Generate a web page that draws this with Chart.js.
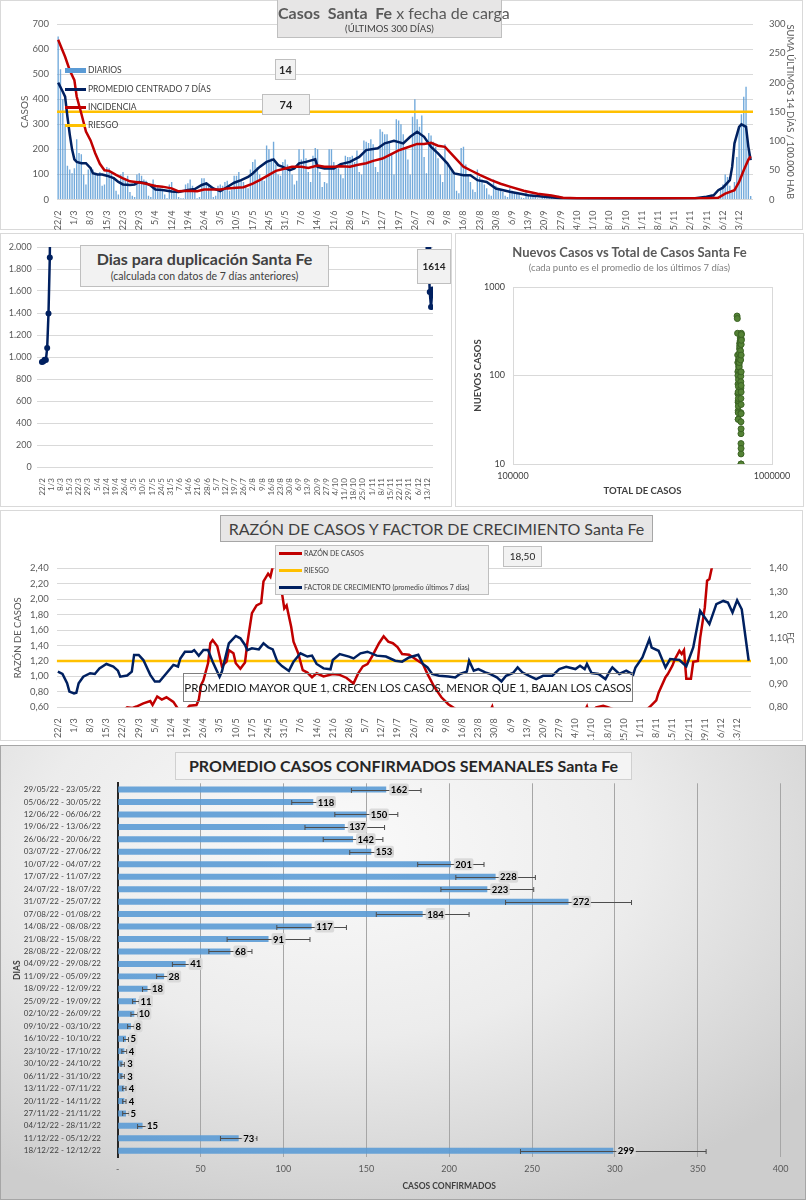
<!DOCTYPE html>
<html lang="es">
<head>
<meta charset="utf-8">
<title>Casos Santa Fe</title>
<script src="https://cdn.jsdelivr.net/npm/chart.js@4.4.1/dist/chart.umd.min.js"></script>
<style>
  body { margin: 0; background: #fff; font-family: Lato, "Open Sans", sans-serif; }
  #page { position: relative; width: 806px; height: 1200px; overflow: hidden; }
  .panel { position: absolute; box-sizing: border-box; border: 1px solid #d9d9d9; background: #fff; }
  canvas { position: absolute; }
  .box { position: absolute; box-sizing: border-box; border: 1px solid #bfbfbf; background: #ededed;
         color: #404040; text-align: center; white-space: nowrap; }
  .leg { position: absolute; font-size: 8.5px; color: #404040; white-space: nowrap; line-height: 10px; }
  .sw { position: absolute; }
</style>
</head>
<body>
<div id="page">
  <div class="panel" style="left:0;top:0;width:803px;height:230px"></div>
  <div class="panel" style="left:0;top:233px;width:452px;height:274px"></div>
  <div class="panel" style="left:455px;top:233px;width:349px;height:274px"></div>
  <div class="panel" style="left:0;top:510px;width:803px;height:231px"></div>
  <div class="panel" style="left:0;top:745px;width:806px;height:455px;border-color:#a6a6a6;
       background:radial-gradient(ellipse 75% 85% at 42% 22%, #fafafa 0%, #ececec 50%, #cdcdcd 100%)"></div>

  <canvas id="c1" width="806" height="230" style="left:0;top:0"></canvas>
  <canvas id="c2" width="453" height="274" style="left:0;top:233px"></canvas>
  <canvas id="c3" width="350" height="274" style="left:455px;top:233px"></canvas>
  <canvas id="c4" width="806" height="230" style="left:0;top:510px"></canvas>
  <canvas id="c5" width="806" height="455" style="left:0;top:745px"></canvas>

  <!-- panel 1 -->
  <div class="box" style="left:277px;top:-1px;width:225px;height:39px;background:#e7e6e6;color:#595959">
    <div style="font-size:16px;line-height:20px;margin-top:3px"><b>Casos&nbsp; Santa&nbsp; Fe</b> x fecha de carga</div>
    <div style="font-size:9.5px;line-height:12px;color:#404040">(ÚLTIMOS 300 DÍAS)</div>
  </div>
  <div class="sw" style="left:65px;top:68px;width:21px;height:5px;background:#5b9bd5"></div>
  <div class="leg" style="left:88px;top:65px">DIARIOS</div>
  <div class="sw" style="left:65px;top:88px;width:21px;height:3px;background:#002060"></div>
  <div class="leg" style="left:88px;top:84px">PROMEDIO CENTRADO 7 DÍAS</div>
  <div class="sw" style="left:65px;top:106px;width:21px;height:3px;background:#c00000"></div>
  <div class="leg" style="left:88px;top:102px">INCIDENCIA</div>
  <div class="sw" style="left:65px;top:124px;width:21px;height:3px;background:#ffc000"></div>
  <div class="leg" style="left:88px;top:120px">RIESGO</div>
  <div class="box" id="boxDiario" style="left:275px;top:59px;width:21px;height:21px;background:#f2f2f2;font-weight:bold;font-size:11px;line-height:19px;color:#262626"></div>
  <div class="box" id="boxIncidencia" style="left:262px;top:94px;width:48px;height:21px;background:#f2f2f2;font-weight:bold;font-size:11px;line-height:19px;color:#262626"></div>

  <!-- panel 2 -->
  <div class="box" style="left:80px;top:245px;width:249px;height:42px;background:#f2f2f2">
    <div style="font-size:16px;font-weight:bold;line-height:20px;margin-top:3px">Dias para duplicación Santa Fe</div>
    <div style="font-size:10.5px;line-height:14px">(calculada con datos de 7 días anteriores)</div>
  </div>
  <div class="box" id="boxDuplicacion" style="left:417px;top:249px;width:34px;height:35px;background:#f2f2f2;font-weight:bold;font-size:10px;line-height:33px;color:#262626"></div>

  <!-- panel 3 -->
  <div style="position:absolute;left:455px;top:244px;width:349px;text-align:center;font-size:13px;font-weight:bold;color:#595959;white-space:nowrap">Nuevos Casos vs Total de Casos Santa Fe</div>
  <div style="position:absolute;left:455px;top:262px;width:349px;text-align:center;font-size:9.5px;color:#7f7f7f;white-space:nowrap">(cada punto es el promedio de los últimos 7 días)</div>

  <!-- panel 4 -->
  <div class="box" style="left:220px;top:515px;width:433px;height:27px;background:#e7e6e6;border-color:#a6a6a6;font-size:16px;line-height:25px">RAZÓN DE CASOS Y FACTOR DE CRECIMIENTO Santa Fe</div>
  <div class="box" style="left:275px;top:545px;width:214px;height:50px;background:#f2f2f2"></div>
  <div class="sw" style="left:279px;top:551.5px;width:23px;height:3px;background:#c00000"></div>
  <div class="leg" style="left:304px;top:548px;font-size:7px">RAZÓN DE CASOS</div>
  <div class="sw" style="left:279px;top:568.5px;width:23px;height:3px;background:#ffc000"></div>
  <div class="leg" style="left:304px;top:565px;font-size:7px">RIESGO</div>
  <div class="sw" style="left:279px;top:585.5px;width:23px;height:3px;background:#002060"></div>
  <div class="leg" style="left:304px;top:582px;font-size:7px">FACTOR DE CRECIMIENTO (promedio últimos 7 días)</div>
  <div class="box" id="boxRazon" style="left:503px;top:546px;width:39px;height:21px;background:#f2f2f2;font-size:10px;line-height:19px;color:#262626"></div>
  <div class="box" style="left:183px;top:673px;width:450px;height:29px;background:transparent;border-color:#7f7f7f;color:#1a1a1a;font-size:11.5px;line-height:27px">PROMEDIO MAYOR QUE 1, CRECEN LOS CASOS, MENOR QUE 1, BAJAN LOS CASOS</div>

  <!-- panel 5 -->
  <div class="box" style="left:175px;top:752px;width:457px;height:28px;background:#f4f4f4;border-color:#d0d0d0;color:#262626;font-size:16px;font-weight:bold;line-height:26px">PROMEDIO CASOS CONFIRMADOS SEMANALES Santa Fe</div>
</div>

<script>
// ---- datos: casos diarios (300 días desde 22/2) ----
const etiquetasSemana = ['22/2', '1/3', '8/3', '15/3', '22/3', '29/3', '5/4', '12/4', '19/4', '26/4',
  '3/5', '10/5', '17/5', '24/5', '31/5', '7/6', '14/6', '21/6', '28/6', '5/7', '12/7', '19/7', '26/7',
  '2/8', '9/8', '16/8', '23/8', '30/8', '6/9', '13/9', '20/9', '27/9', '4/10', '11/10', '18/10', '25/10',
  '1/11', '8/11', '15/11', '22/11', '29/11', '6/12', '13/12'];

const diarios = [
  650, 520, 400, 300, 135, 120, 105,
  125, 240, 185, 180, 100, 60, 120,
  130, 120, 105, 100, 110, 55, 60,
  130, 125, 110, 90, 35, 20, 100,
  110, 85, 95, 30, 15, 10, 100,
  105, 95, 80, 75, 15, 10, 80,
  60, 50, 45, 35, 20, 5, 60,
  70, 40, 35, 10, 5, 5, 60,
  65, 80, 55, 30, 5, 10, 85,
  85, 70, 60, 50, 10, 15, 55,
  60, 55, 70, 75, 35, 40, 95,
  95, 110, 80, 70, 55, 45, 120,
  150, 160, 130, 100, 80, 75, 215,
  200, 165, 230, 140, 100, 95, 150,
  160, 140, 130, 100, 60, 75, 200,
  160, 200, 165, 110, 70, 175, 205,
  200, 110, 50, 70, 65, 200, 200,
  150, 130, 125, 100, 85, 175, 170,
  170, 175, 150, 195, 110, 100, 235,
  230, 225, 240, 220, 130, 110, 280,
  270, 260, 260, 230, 185, 100, 320,
  315, 300, 260, 200, 160, 100, 330,
  400, 320, 290, 335, 170, 105, 265,
  255, 230, 210, 165, 100, 70, 220,
  140, 130, 120, 100, 35, 25, 205,
  210, 140, 100, 70, 40, 30, 120,
  90, 80, 60, 45, 20, 15, 80,
  55, 45, 35, 30, 15, 10, 45,
  35, 30, 25, 20, 8, 6, 30,
  22, 18, 15, 12, 5, 4, 20,
  15, 12, 10, 10, 4, 3, 15,
  8, 7, 6, 6, 2, 2, 8,
  6, 5, 4, 4, 2, 1, 6,
  5, 4, 3, 3, 1, 1, 5,
  4, 3, 3, 3, 1, 1, 4,
  4, 3, 3, 3, 1, 1, 4,
  4, 4, 3, 4, 1, 1, 5,
  5, 4, 4, 4, 2, 1, 5,
  5, 5, 4, 5, 2, 2, 7,
  8, 7, 6, 8, 3, 3, 12,
  15, 18, 20, 22, 10, 12, 45,
  60, 100, 90, 55, 30, 70, 170,
  290, 340, 410, 450, 200, 14
];

// [día, valor]
const promedio7 = [[0, 466], [2, 430], [3, 410], [4, 330], [5, 260], [6, 200], [7, 160], [8, 150], [10, 145],
  [12, 145], [14, 125], [15, 105], [17, 100], [19, 100], [21, 95], [24, 85], [26, 70], [28, 60], [31, 58],
  [33, 60], [35, 70], [38, 65], [40, 55], [42, 40], [45, 38], [49, 32], [52, 30], [56, 38], [59, 42],
  [62, 58], [64, 64], [67, 44], [70, 33], [73, 50], [76, 67], [79, 77], [82, 90], [84, 104], [87, 130],
  [90, 150], [93, 160], [95, 137], [97, 130], [100, 117], [102, 124], [104, 144], [107, 150], [111, 160],
  [112, 130], [115, 124], [119, 124], [122, 141], [126, 150], [130, 170], [133, 197], [138, 204],
  [141, 224], [145, 234], [149, 224], [152, 250], [155, 270], [158, 250], [161, 210], [164, 184],
  [168, 144], [171, 104], [175, 97], [178, 97], [181, 77], [185, 70], [189, 44], [195, 31], [203, 17],
  [210, 11], [217, 5], [225, 4], [240, 3], [260, 3], [275, 5], [280, 11], [283, 17], [285, 37],
  [287, 47], [290, 77], [291, 130], [292, 224], [294, 290], [295, 300], [297, 290], [298, 210], [299, 157]];

const incidencia = [[0, 273], [3, 244], [5, 221], [7, 204], [8, 176], [10, 147], [12, 116], [14, 101],
  [16, 79], [18, 61], [20, 50], [22, 49], [25, 42], [28, 36], [31, 31], [35, 29], [38, 27], [42, 23],
  [45, 22], [49, 19], [52, 14], [56, 15], [60, 14], [63, 17], [66, 17], [70, 17], [73, 19], [77, 20],
  [80, 21], [84, 27], [87, 33], [91, 42], [94, 49], [98, 53], [101, 56], [105, 56], [108, 54], [112, 58],
  [115, 56], [119, 56], [122, 57], [126, 56], [129, 59], [133, 62], [136, 66], [140, 70], [143, 76],
  [147, 84], [150, 88], [155, 95], [158, 95], [161, 97], [164, 92], [167, 90], [171, 73], [175, 56],
  [178, 50], [182, 42], [187, 33], [191, 27], [195, 22], [201, 15], [207, 10], [213, 7], [218, 3],
  [224, 2], [240, 2], [260, 2], [280, 2], [285, 3], [288, 10], [292, 16], [294, 30], [296, 50],
  [298, 68], [299, 74]];

const RIESGO_INCIDENCIA = 150;

// ---- días para duplicación ----
const duplicacion = [[0, 955], [1, 960], [2, 975], [3, 972], [4, 1082], [5, 1395], [6, 1905], [7, 3200],
  [294, 3000], [295, 1990], [296, 1592], [297, 1454], [298, 1614]];

// ---- nuevos casos vs total ----
const totalCasos = [733000, 734800, 736300, 737240, 737860, 738360, 738780, 739140, 739425, 739675,
  739930, 740160, 740340, 740485, 740613, 740753, 740928, 741133, 741328, 741528, 741788, 742118,
  742528, 743048, 743638, 744188, 744698, 745258, 745868, 746448, 746968, 747498, 748088, 748758,
  749518, 750348, 751238, 752163, 753118, 754138, 755148, 756008, 756688, 757208, 757624, 757990,
  758304, 758558, 758744, 758880, 758984, 759062, 759122, 759168, 759202, 759290, 759420, 759600,
  759640, 759680, 759710, 759755, 759870, 759940, 760040, 760180, 760380, 760620, 760900, 761200,
  761490, 761760];
const nuevosCasos = [470, 440, 300, 170, 140, 110, 100, 80, 62, 62,
  65, 50, 40, 32, 32, 38, 50, 52, 45, 55, 75, 90,
  115, 145, 150, 125, 130, 150, 155, 135, 125, 140, 155, 180,
  200, 215, 230, 232, 245, 265, 240, 190, 150, 110, 98, 85,
  72, 55, 38, 30, 22, 17, 13, 10, 7, 4, 3, 10,
  15, 25, 37, 47, 65, 77, 110, 170, 224, 260, 290, 300,
  290, 250];

// ---- razón de casos y factor de crecimiento ----
const razonCasos = [[0, 0.45], [10, 0.35], [20, 0.4], [28, 0.55], [30, 0.60], [32, 0.59], [34, 0.61],
  [37, 0.65], [40, 0.68], [41, 0.63], [43, 0.74], [45, 0.70], [47, 0.73], [50, 0.67], [52, 0.58],
  [55, 0.55], [57, 0.62], [60, 0.63], [61, 0.70], [62, 0.89], [63, 0.95], [65, 1.17], [66, 1.43],
  [67, 1.47], [69, 1.39], [70, 1.26], [71, 1.13], [73, 1.19], [74, 1.34], [76, 1.30], [77, 1.17],
  [79, 1.10], [81, 1.18], [82, 1.43], [84, 1.82], [86, 1.92], [88, 1.95], [89, 2.23], [91, 2.33],
  [92, 2.29], [93, 2.42], [94, 2.5], [95, 2.29], [97, 2.08], [98, 1.88], [99, 1.92], [101, 1.64],
  [102, 1.45], [104, 1.30], [106, 1.08], [108, 1.05], [110, 0.99], [112, 1.04], [115, 1.00],
  [119, 1.03], [122, 1.02], [125, 0.98], [127, 0.93], [128, 0.91], [130, 1.04], [132, 1.13],
  [134, 1.16], [136, 1.26], [139, 1.43], [141, 1.52], [143, 1.45], [145, 1.43], [147, 1.38],
  [149, 1.29], [152, 1.28], [156, 1.20], [158, 1.16], [160, 1.03], [163, 0.86], [166, 0.73],
  [169, 0.64], [172, 0.58], [180, 0.45], [187, 0.55], [188, 0.61], [189, 0.5], [200, 0.4],
  [215, 0.35], [228, 0.55], [229, 0.61], [230, 0.5], [233, 0.60], [236, 0.62], [238, 0.60],
  [240, 0.58], [247, 0.45], [254, 0.55], [256, 0.60], [259, 0.69], [260, 0.79], [263, 0.99],
  [264, 1.03], [266, 1.14], [267, 1.22], [269, 1.33], [270, 1.29], [271, 1.34], [272, 0.97],
  [274, 0.97], [275, 1.19], [277, 1.20], [278, 1.50], [280, 1.89], [281, 2.24], [282, 2.26],
  [283, 2.40], [285, 3.0], [299, 18.5]];

const factorCrecimiento = [[0, 0.954], [2, 0.944], [4, 0.904], [5, 0.868], [7, 0.860], [8, 0.863],
  [9, 0.904], [11, 0.932], [14, 0.947], [16, 0.944], [18, 0.968], [21, 0.987], [24, 0.976], [26, 0.958],
  [27, 0.932], [30, 0.937], [32, 0.954], [33, 1.026], [35, 1.026], [37, 1.004], [40, 0.940], [42, 0.911],
  [44, 0.911], [47, 0.947], [50, 0.983], [52, 0.976], [53, 1.011], [55, 1.040], [58, 1.040], [59, 1.047],
  [61, 1.022], [63, 1.047], [65, 1.047], [67, 0.997], [70, 0.932], [71, 0.954], [74, 1.076], [77, 1.108],
  [79, 1.098], [81, 1.069], [82, 1.047], [84, 1.055], [87, 1.050], [89, 1.076], [91, 1.059], [93, 1.050],
  [95, 0.997], [97, 0.978], [100, 0.957], [102, 0.997], [105, 1.033], [108, 1.019], [110, 1.023],
  [112, 0.987], [115, 0.968], [118, 0.964], [119, 1.004], [122, 1.030], [126, 1.019], [128, 1.011],
  [131, 1.033], [134, 1.040], [138, 1.023], [142, 1.019], [146, 1.001], [149, 0.997], [152, 1.015],
  [156, 1.027], [158, 0.987], [160, 0.972], [162, 0.944], [165, 0.936], [169, 0.933], [172, 0.929],
  [174, 0.944], [177, 0.954], [178, 1.001], [180, 0.958], [182, 0.965], [185, 0.951], [187, 0.944],
  [190, 0.929], [192, 0.912], [194, 0.936], [197, 0.948], [199, 0.972], [201, 0.951], [204, 0.936],
  [207, 0.922], [210, 0.936], [214, 0.936], [217, 0.965], [220, 0.975], [224, 0.965], [226, 0.979],
  [228, 0.965], [229, 0.987], [231, 0.948], [234, 0.944], [237, 0.922], [239, 0.958], [240, 0.972],
  [243, 0.944], [246, 0.958], [249, 0.941], [250, 0.972], [253, 1.015], [256, 1.094], [257, 1.058],
  [260, 1.044], [263, 0.972], [265, 1.008], [269, 1.004], [272, 0.977], [275, 1.058], [278, 1.216],
  [280, 1.188], [282, 1.159], [285, 1.245], [288, 1.259], [290, 1.252], [292, 1.209], [294, 1.262],
  [296, 1.223], [299, 1.001]];

const RIESGO_RAZON = 1.2;

// ---- promedio semanal ----
const semanas = ['29/05/22 - 23/05/22', '05/06/22 - 30/05/22', '12/06/22 - 06/06/22', '19/06/22 - 13/06/22',
  '26/06/22 - 20/06/22', '03/07/22 - 27/06/22', '10/07/22 - 04/07/22', '17/07/22 - 11/07/22',
  '24/07/22 - 18/07/22', '31/07/22 - 25/07/22', '07/08/22 - 01/08/22', '14/08/22 - 08/08/22',
  '21/08/22 - 15/08/22', '28/08/22 - 22/08/22', '04/09/22 - 29/08/22', '11/09/22 - 05/09/22',
  '18/09/22 - 12/09/22', '25/09/22 - 19/09/22', '02/10/22 - 26/09/22', '09/10/22 - 03/10/22',
  '16/10/22 - 10/10/22', '23/10/22 - 17/10/22', '30/10/22 - 24/10/22', '06/11/22 - 31/10/22',
  '13/11/22 - 07/11/22', '20/11/22 - 14/11/22', '27/11/22 - 21/11/22', '04/12/22 - 28/11/22',
  '11/12/22 - 05/12/22', '18/12/22 - 12/12/22'];
const promedios = [162, 118, 150, 137, 142, 153, 201, 228, 223, 272, 184, 117, 91, 68, 41, 28, 18, 11, 10,
  8, 5, 4, 3, 3, 4, 4, 5, 15, 73, 299];
const errores = [21, 13, 19, 24, 18, 13, 20, 24, 28, 38, 28, 21, 25, 13, 8, 4.5, 3, 2, 2, 2, 1.5, 1.5, 1,
  1, 1, 1, 2, 3, 11, 56];

// ---- helpers ----
Chart.defaults.font.family = 'Lato, "Open Sans", sans-serif';
Chart.defaults.color = '#595959';
Chart.defaults.animation = false;
Chart.defaults.plugins.legend.display = false;
Chart.defaults.plugins.tooltip.enabled = false;

const fijarAncho = (px) => (scale) => { scale.width = px; };
const fijarAlto = (px) => (scale) => { scale.height = px; };
const pares = (lista) => lista.map(([x, y]) => ({ x, y }));
const coma = (v, d) => v.toFixed(d).replace('.', ',');
const miles = (v) => String(v).replace(/\B(?=(\d{3})+(?!\d))/g, '.');
const etiquetaDia = (v) => etiquetasSemana[Math.round(v / 7)] ?? '';
const ultimo = (lista) => lista[lista.length - 1];

const ejeDias = (min, max, alto, tam) => ({
  type: 'linear', min, max, offset: false,
  grid: { display: false, offset: false }, border: { display: false },
  ticks: { stepSize: 7, includeBounds: false, autoSkip: false, maxRotation: 90, minRotation: 90,
    padding: 3, font: { size: tam }, callback: etiquetaDia },
  afterFit: fijarAlto(alto)
});

document.getElementById('boxDiario').textContent = ultimo(diarios);
document.getElementById('boxIncidencia').textContent = ultimo(incidencia)[1];
document.getElementById('boxDuplicacion').textContent = ultimo(duplicacion)[1];
document.getElementById('boxRazon').textContent = coma(ultimo(razonCasos)[1], 2);

// ---- 1: casos diarios ----
const X1 = { min: -0.5, max: 300 };
new Chart(document.getElementById('c1'), {
  type: 'bar',
  data: {
    datasets: [
      { type: 'line', label: 'INCIDENCIA', data: pares(incidencia), yAxisID: 'yInc',
        borderColor: '#c00000', borderWidth: 2.5, pointRadius: 0, order: 1 },
      { type: 'line', label: 'PROMEDIO CENTRADO 7 DÍAS', data: pares(promedio7), yAxisID: 'y',
        borderColor: '#002060', borderWidth: 2.5, pointRadius: 0, order: 2 },
      { type: 'line', label: 'RIESGO', yAxisID: 'yInc',
        data: [{ x: X1.min, y: RIESGO_INCIDENCIA }, { x: X1.max, y: RIESGO_INCIDENCIA }],
        borderColor: '#ffc000', borderWidth: 2.5, pointRadius: 0, order: 3 },
      { type: 'bar', label: 'DIARIOS', data: diarios.map((v, i) => ({ x: i, y: v })), yAxisID: 'y',
        backgroundColor: 'rgba(91,155,213,0.85)', barPercentage: 0.6, categoryPercentage: 1, order: 4 }
    ]
  },
  options: {
    responsive: false,
    layout: { padding: { left: 15, top: 24, right: 6, bottom: 0 } },
    scales: {
      x: ejeDias(X1.min, X1.max, 30.5, 9),
      y: { min: 0, max: 700, ticks: { stepSize: 100, padding: 8, font: { size: 9.5 } },
        grid: { color: '#d9d9d9', drawTicks: false }, border: { display: false },
        title: { display: true, text: 'CASOS', font: { size: 10 } }, afterFit: fijarAncho(42) },
      yInc: { position: 'right', min: 0, max: 300, ticks: { stepSize: 50, padding: 8, font: { size: 9.5 } },
        grid: { display: false }, border: { display: false },
        title: { display: true, text: 'SUMA ÚLTIMOS 14 DÍAS / 100.000 HAB', font: { size: 9.5 } },
        afterFit: fijarAncho(47) }
    }
  }
});

// ---- 2: días para duplicación ----
new Chart(document.getElementById('c2'), {
  type: 'line',
  data: { datasets: [{ data: pares(duplicacion), borderColor: '#002060', backgroundColor: '#002060',
    borderWidth: 2.5, pointRadius: 3, pointBorderWidth: 0 }] },
  options: {
    responsive: false,
    layout: { padding: { left: 0, top: 14, right: 20, bottom: 0 } },
    scales: {
      x: ejeDias(-4, 298.5, 40, 8),
      y: { min: 0, max: 2000, ticks: { stepSize: 200, padding: 5, font: { size: 9 }, callback: miles },
        grid: { color: '#d9d9d9', drawTicks: false }, border: { display: false }, afterFit: fijarAncho(36.7) }
    }
  }
});

// ---- 3: nuevos vs total ----
const tituloEje = (text) => ({ display: true, text, color: '#404040', font: { size: 9.5, weight: 'bold' } });
new Chart(document.getElementById('c3'), {
  type: 'scatter',
  data: { datasets: [{ data: totalCasos.map((x, i) => ({ x, y: nuevosCasos[i] })),
    backgroundColor: '#548235', borderColor: '#3b6324', borderWidth: 1, pointRadius: 3 }] },
  options: {
    responsive: false,
    layout: { padding: { left: 13.6, top: 54, right: 33, bottom: 6 } },
    scales: {
      x: { type: 'logarithmic', min: 100000, max: 1000000,
        afterBuildTicks: (s) => { s.ticks = [{ value: 100000 }, { value: 1000000 }]; },
        ticks: { padding: 7, font: { size: 9 }, color: '#404040', callback: (v) => String(v) },
        grid: { color: '#d9d9d9', drawTicks: false }, border: { color: '#d9d9d9' },
        title: tituloEje('TOTAL DE CASOS'), afterFit: fijarAlto(37) },
      y: { type: 'logarithmic', min: 10, max: 1000,
        afterBuildTicks: (s) => { s.ticks = [{ value: 10 }, { value: 100 }, { value: 1000 }]; },
        ticks: { padding: 8, font: { size: 9 }, color: '#404040', callback: (v) => String(v) },
        grid: { color: '#d9d9d9', drawTicks: false }, border: { color: '#d9d9d9' },
        title: tituloEje('NUEVOS CASOS'), afterFit: fijarAncho(44.4) }
    }
  }
});

// ---- 4: razón de casos y factor de crecimiento ----
const X4 = { min: -0.5, max: 300 };
new Chart(document.getElementById('c4'), {
  type: 'line',
  data: {
    datasets: [
      { label: 'FACTOR DE CRECIMIENTO', data: pares(factorCrecimiento), yAxisID: 'yFc',
        borderColor: '#002060', borderWidth: 2.5, pointRadius: 0, order: 1 },
      { label: 'RAZÓN DE CASOS', data: pares(razonCasos), yAxisID: 'y',
        borderColor: '#c00000', borderWidth: 2.5, pointRadius: 0, order: 2 },
      { label: 'RIESGO', yAxisID: 'y', data: [{ x: X4.min, y: RIESGO_RAZON }, { x: X4.max, y: RIESGO_RAZON }],
        borderColor: '#ffc000', borderWidth: 2.5, pointRadius: 0, order: 3 }
    ]
  },
  options: {
    responsive: false,
    layout: { padding: { left: 8, top: 58.3, right: 6, bottom: 0 } },
    scales: {
      x: ejeDias(X4.min, X4.max, 32.7, 9),
      y: { min: 0.6, max: 2.4, ticks: { stepSize: 0.2, padding: 8, font: { size: 9.5 }, callback: (v) => coma(v, 2) },
        grid: { color: '#d9d9d9', drawTicks: false }, border: { display: false },
        title: { display: true, text: 'RAZÓN DE CASOS', font: { size: 9.5 } }, afterFit: fijarAncho(48.7) },
      yFc: { position: 'right', min: 0.8, max: 1.4,
        ticks: { stepSize: 0.1, padding: 10, font: { size: 9.5 }, callback: (v) => coma(v, 2) },
        grid: { display: false }, border: { display: false },
        title: { display: true, text: 'FC', font: { size: 9.5 } }, afterFit: fijarAncho(49) }
    }
  }
});

// ---- 5: promedio semanal con barras de error ----
const barrasError = {
  id: 'barrasError',
  afterDatasetsDraw(chart) {
    const { ctx } = chart;
    const xs = chart.scales.x;
    const barras = chart.getDatasetMeta(0).data;
    ctx.save();
    ctx.strokeStyle = '#4d4d4d';
    ctx.lineWidth = 1;
    barras.forEach((barra, i) => {
      const x1 = xs.getPixelForValue(promedios[i] - errores[i]);
      const x2 = xs.getPixelForValue(promedios[i] + errores[i]);
      const y = Math.round(barra.y) + 0.5;
      ctx.beginPath();
      ctx.moveTo(x1, y); ctx.lineTo(x2, y);
      ctx.moveTo(x1, y - 2.5); ctx.lineTo(x1, y + 2.5);
      ctx.moveTo(x2, y - 2.5); ctx.lineTo(x2, y + 2.5);
      ctx.stroke();
    });
    ctx.font = 'bold 9.5px Lato, "Open Sans", sans-serif';
    ctx.textBaseline = 'middle';
    barras.forEach((barra, i) => {
      const txt = String(promedios[i]);
      const w = ctx.measureText(txt).width;
      const x = barra.x + 4;
      ctx.fillStyle = 'rgba(215,215,215,0.9)';
      ctx.beginPath();
      ctx.roundRect(x - 1, barra.y - 6, w + 3, 12, 2);
      ctx.fill();
      ctx.fillStyle = '#000';
      ctx.fillText(txt, x + 0.5, barra.y + 0.5);
    });
    ctx.restore();
  }
};

new Chart(document.getElementById('c5'), {
  type: 'bar',
  data: { labels: semanas, datasets: [{ data: promedios, backgroundColor: 'rgba(91,155,213,0.9)',
    barPercentage: 0.48, categoryPercentage: 1 }] },
  options: {
    indexAxis: 'y',
    responsive: false,
    layout: { padding: { left: 8, top: 38.3, right: 25.3, bottom: 4.2 } },
    scales: {
      x: { min: 0, max: 400, ticks: { stepSize: 50, padding: 7, font: { size: 9 }, callback: (v) => (v === 0 ? '-' : v) },
        grid: { color: '#a6a6a6', drawTicks: false }, border: { display: false },
        title: { display: true, text: 'CASOS CONFIRMADOS', color: '#404040', font: { size: 8.5, weight: 'bold' } },
        afterFit: fijarAlto(38.8) },
      y: { ticks: { autoSkip: false, padding: 8.7, font: { size: 8 }, color: '#404040' },
        grid: { display: false }, border: { display: true, color: '#262626', width: 2 },
        title: { display: true, text: 'DIAS', color: '#404040', font: { size: 8.5, weight: 'bold' } },
        afterFit: fijarAncho(109.7) }
    }
  },
  plugins: [barrasError]
});
</script>
</body>
</html>
